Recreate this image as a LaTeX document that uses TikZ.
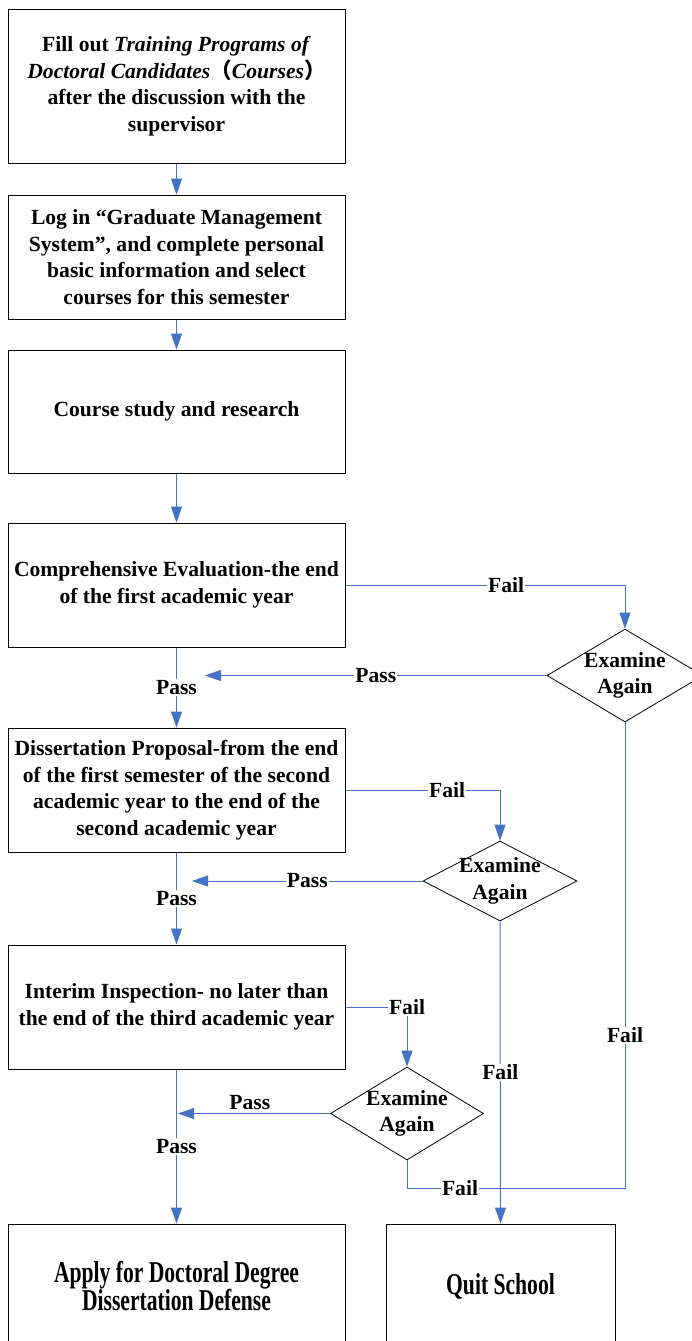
\documentclass[tikz,border=0pt]{standalone}
\usepackage{fontspec}
\setmainfont{Liberation Serif}
\newfontfamily\cjk{Noto Sans CJK SC}
\usetikzlibrary{arrows.meta,shapes.geometric}
\definecolor{lineblue}{HTML}{4472C4}
\begin{document}
\begin{tikzpicture}[x=1pt,y=-1pt,
  every node/.style={font=\fontsize{21.6}{26.5}\selectfont\bfseries},
  box/.style={draw=black,line width=1pt,minimum width=337pt,minimum height=124pt,align=center,inner sep=0pt},
  dia/.style={draw=black,line width=0.8pt,diamond,inner sep=0pt},
  flow/.style={draw=lineblue,line width=1pt},
  arr/.style={flow,-{Triangle[length=16pt,width=11pt]}},
  lab/.style={fill=white,inner sep=1pt}]
\useasboundingbox (0,0) rectangle (691,1341);
\fill[white] (0,0) rectangle (691,1341);
% boxes
\node[box,minimum height=154pt] (b1) at (176.5,86) {Fill out \textit{Training Programs of}\\\textit{Doctoral Candidates}{\cjk\bfseries（}\textit{Courses}{\cjk\bfseries）}\\after the discussion with the\\supervisor};
\node[box] (b2) at (176.5,257) {Log in “Graduate Management\\System”, and complete personal\\basic information and select\\courses for this semester};
\node[box,minimum height=123pt] (b3) at (176.5,411.5) {Course study and research};
\node[box] (b4) at (176.5,585) {Comprehensive Evaluation-the end\\of the first academic year};
\node[box] (b5) at (176.5,790) {Dissertation Proposal-from the end\\of the first semester of the second\\academic year to the end of the\\second academic year};
\node[box] (b6) at (176.5,1007) {Interim Inspection- no later than\\the end of the third academic year};
\node[box] (b7) at (176.5,1286) {\scalebox{1}[1.4]{Apply for Doctoral Degree}\\\scalebox{1}[1.4]{Dissertation Defense}};
\node[box,minimum width=229pt] (quit) at (500.5,1286) {\scalebox{1}[1.4]{Quit School}};
% diamonds
\node[dia,minimum width=156pt,minimum height=93pt,label={[align=center]center:Examine\\Again}] (d1) at (625,675.5) {};
\node[dia,minimum width=154pt,minimum height=80pt,label={[align=center]center:Examine\\Again}] (d2) at (500,881) {};
\node[dia,minimum width=153pt,minimum height=93pt,label={[align=center]center:Examine\\Again}] (d3) at (407,1113.5) {};
% free ends
\coordinate (p1) at (205,675.5);
\coordinate (p2) at (192,881);
\coordinate (p3) at (178,1113.5);
\coordinate (j) at (500,1188);
% main flow
\draw[arr] (b1.south) -- (b2.north);
\draw[arr] (b2.south) -- (b3.north);
\draw[arr] (b3.south) -- (b4.north);
\draw[arr] (b4.south) -- node[lab]{Pass} (b5.north);
\draw[arr] (b5.south) -- node[lab]{Pass} (b6.north);
\draw[arr] (b6.south) -- node[lab]{Pass} (b7.north);
% fail branches
\draw[arr] (b4.east) -| node[lab,pos=0.2875]{Fail} (d1.north);
\draw[arr] (b5.east) -| node[lab,pos=0.329]{Fail} (d2.north);
\draw[arr] (b6.east) -| node[lab,pos=0.5]{Fail} (d3.north);
% pass back
\draw[arr] (d1.west) -- node[lab]{Pass} (p1);
\draw[arr] (d2.west) -- node[lab]{Pass} (p2);
\draw[arr] (d3.west) -- node[lab,pos=0.528,yshift=10.5pt]{Pass} (p3);
% to quit
\draw[flow] (d1.south) |- node[lab,pos=0.336]{Fail} (j);
\draw[flow] (d3.south) |- node[lab,pos=0.785]{Fail} (j);
\draw[arr] (d2.south) -- node[lab]{Fail} (quit.north);
\end{tikzpicture}
\end{document}
